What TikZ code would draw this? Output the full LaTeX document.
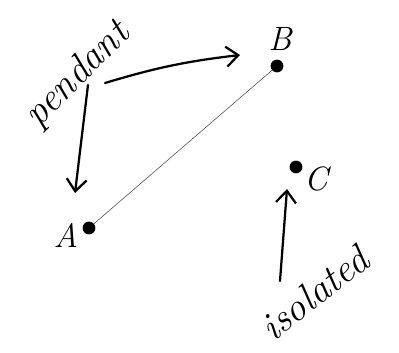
\documentclass[tikz,border=0pt]{standalone}
\usetikzlibrary{arrows.meta}

\begin{document}
\begin{tikzpicture}[
    >={Straight Barb[length=3mm,width=5mm]},
    vertex/.style={
        circle,
        fill=black,
        inner sep=0pt,
        minimum size=0.32cm
    },
    lbl/.style={
        font=\fontsize{24}{28}\selectfont\itshape
    },
    note/.style={
        font=\fontsize{28}{32}\selectfont\itshape
    },
    arr/.style={->, line width=1.6pt, line cap=round}
]
    \useasboundingbox (0,0) rectangle (9.975,8.825);

    \node[vertex] (A) at (2.225,3.125) {};
    \node[vertex] (B) at (6.925,7.175) {};
    \node[vertex] (C) at (7.4,4.65) {};

    \node[lbl] (labA) at (1.65,2.95) {A};
    \node[lbl] (labB) at (7.0,7.85) {B};
    \node[lbl] (labC) at (7.9,4.35) {C};

    \node[note, rotate=45] (pendant) at (1.95,6.95) {pendant};
    \node[note, rotate=38] (isolated) at (7.85,1.5) {isolated};

    \coordinate (pendB) at (6.0,7.45);
    \coordinate (pendA) at (1.875,4.0);
    \coordinate (isoC) at (7.175,4.1);

    \draw[line width=0.4pt, black!70] (A) -- (B);

    \draw[arr] (2.625,6.75) to[bend left=5] (pendB);
    \draw[arr] (2.2,6.7) -- (pendA);
    \draw[arr] (7.0,1.8) -- (isoC);
\end{tikzpicture}
\end{document}
